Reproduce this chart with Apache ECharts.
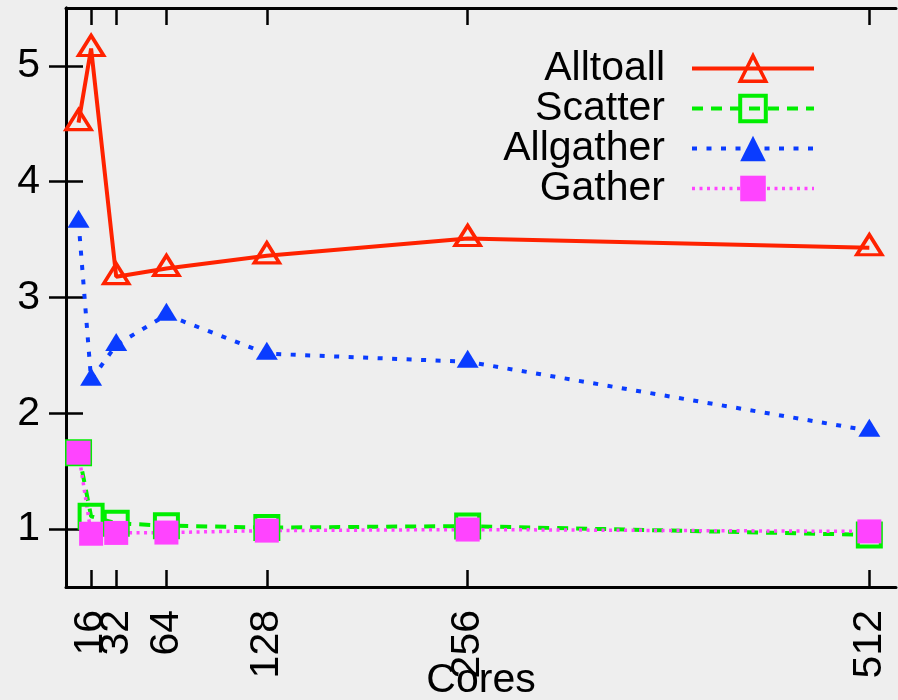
<!DOCTYPE html>
<html>
<head>
<meta charset="utf-8">
<script src="https://cdn.jsdelivr.net/npm/echarts@6/dist/echarts.min.js"></script>
<style>
html,body{margin:0;padding:0;background:#eeeeee;}
#chart{width:898px;height:700px;}
</style>
</head>
<body>
<div id="chart"></div>
<script>
const cores = [8, 16, 32, 64, 128, 256, 512];
const xTickValues = [16, 32, 64, 128, 256, 512];
const xLabelsMain = [16, 64, 128, 256, 512];
const xLabelsExtra = [32];
const yTickValues = [1, 2, 3, 4, 5];
const alltoall = [4.51, 5.15, 3.18, 3.25, 3.36, 3.51, 3.43];
const scatter = [1.66, 1.11, 1.05, 1.03, 1.013, 1.026, 0.95];
const allgather = [3.655, 2.29, 2.59, 2.85, 2.515, 2.445, 1.85];
const gather = [1.66, 0.96, 0.967, 0.97, 0.987, 0.996, 0.98];
const seriesNames = ['Alltoall', 'Scatter', 'Allgather', 'Gather'];

const FONT = 'Liberation Sans';
const FS = 41;
const pair = arr => cores.map((c, i) => [c, arr[i]]);

const RED = '#ff2200', GREEN = '#00ee00', BLUE = '#0a3cff', MAGENTA = '#ff44ff';

const chart = echarts.init(document.getElementById('chart'), null, {renderer: 'canvas'});

const axisLine = {show: true, lineStyle: {color: '#000', width: 3}};
const tick = vals => ({show: true, inside: true, length: 17, customValues: vals, lineStyle: {color: '#000', width: 2.5}});
const xLabel = vals => ({show: true, customValues: vals, rotate: 90, margin: 23, hideOverlap: false,
  showMinLabel: true, showMaxLabel: true, fontFamily: FONT, fontSize: FS, color: '#000'});

chart.setOption({
  backgroundColor: '#eeeeee',
  animation: false,
  grid: {left: 66, right: 2, top: 8, bottom: 113, containLabel: false, outerBoundsMode: 'none'},
  legend: {
    orient: 'vertical',
    align: 'right',
    right: 77,
    top: 43,
    itemWidth: 122,
    itemHeight: 32,
    itemGap: -1,
    textStyle: {fontFamily: FONT, fontSize: FS, color: '#000', lineHeight: 39, padding: [0, 22, 0, 0]},
    data: [
      {name: seriesNames[0], lineStyle: {color: RED, width: 4, type: 'solid'}, itemStyle: {color: 'rgba(0,0,0,0)', borderColor: RED, borderWidth: 3.5}},
      {name: seriesNames[1], lineStyle: {color: GREEN, width: 4, type: [11, 8]}, itemStyle: {color: 'rgba(0,0,0,0)', borderColor: GREEN, borderWidth: 4}},
      {name: seriesNames[2], lineStyle: {color: BLUE, width: 4, type: [5, 9.5]}, itemStyle: {color: BLUE, borderWidth: 0}},
      {name: seriesNames[3], lineStyle: {color: MAGENTA, width: 3.5, type: [3, 4.5]}, itemStyle: {color: MAGENTA, borderWidth: 0}}
    ]
  },
  xAxis: [{
    type: 'value', min: 0, max: 529, position: 'bottom',
    name: 'Cores', nameLocation: 'middle', nameGap: 73, nameMoveOverlap: false,
    nameTextStyle: {fontFamily: FONT, fontSize: FS, color: '#000'},
    axisLine: axisLine,
    axisTick: tick(xTickValues),
    splitLine: {show: false},
    axisLabel: xLabel(xLabelsMain)
  }, {
    type: 'value', min: 0, max: 529, position: 'top',
    axisLine: axisLine,
    axisTick: tick(xTickValues),
    splitLine: {show: false},
    axisLabel: {show: false}
  }, {
    type: 'value', min: 0, max: 529, position: 'bottom', offset: 0,
    axisLine: {show: false},
    axisTick: {show: false},
    splitLine: {show: false},
    axisLabel: xLabel(xLabelsExtra)
  }],
  yAxis: [{
    type: 'value', min: 0.5, max: 5.5, position: 'left',
    axisLine: axisLine,
    axisTick: tick(yTickValues),
    splitLine: {show: false},
    axisLabel: {show: true, customValues: yTickValues, margin: 26, showMinLabel: true, showMaxLabel: true,
      fontFamily: FONT, fontSize: FS, color: '#000'}
  }, {
    type: 'value', min: 0.5, max: 5.5, position: 'right',
    axisLine: axisLine,
    axisTick: tick(yTickValues),
    splitLine: {show: false},
    axisLabel: {show: false}
  }],
  series: [{
    name: seriesNames[0], type: 'line', data: pair(alltoall),
    symbol: 'triangle', symbolSize: [25, 20], symbolOffset: [0, -3],
    lineStyle: {color: RED, width: 4, type: 'solid'},
    itemStyle: {color: 'rgba(0,0,0,0)', borderColor: RED, borderWidth: 3.5},
    emphasis: {disabled: true}
  }, {
    name: seriesNames[1], type: 'line', data: pair(scatter),
    symbol: 'rect', symbolSize: 23,
    lineStyle: {color: GREEN, width: 4, type: [11, 8]},
    itemStyle: {color: 'rgba(0,0,0,0)', borderColor: GREEN, borderWidth: 4},
    emphasis: {disabled: true}
  }, {
    name: seriesNames[2], type: 'line', data: pair(allgather),
    symbol: 'triangle', symbolSize: [22, 18], symbolOffset: [0, -3],
    lineStyle: {color: BLUE, width: 4, type: [5, 9.5]},
    itemStyle: {color: BLUE},
    emphasis: {disabled: true}
  }, {
    name: seriesNames[3], type: 'line', data: pair(gather),
    symbol: 'rect', symbolSize: 24,
    lineStyle: {color: MAGENTA, width: 3.5, type: [3, 4.5]},
    itemStyle: {color: MAGENTA},
    emphasis: {disabled: true}
  }]
});
</script>
</body>
</html>
